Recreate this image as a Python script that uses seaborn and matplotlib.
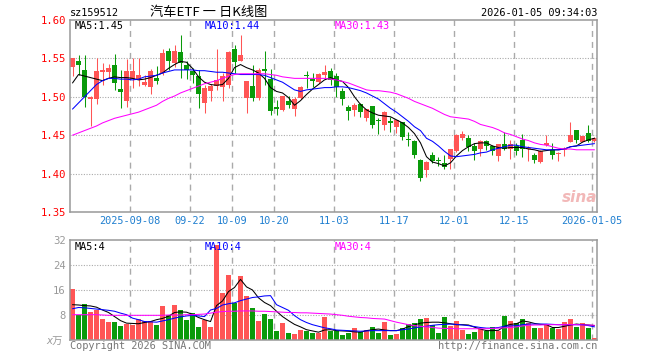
import numpy as np
import pandas as pd
import seaborn as sns
import matplotlib.pyplot as plt

### trading days on the chart: weekdays minus the exchange holidays
holidays = ["2025-10-01", "2025-10-02", "2025-10-03", "2025-10-06", "2025-10-07",
            "2025-10-08", "2026-01-01", "2026-01-02"]
days = pd.bdate_range("2025-08-25", "2026-01-05")
days = days[~days.isin(pd.to_datetime(holidays))]

open_price = [1.539, 1.547, 1.535, 1.4965, 1.497, 1.532, 1.532, 1.541, 1.510, 1.495,
              1.523, 1.522, 1.516, 1.513, 1.524, 1.531, 1.5596, 1.544, 1.5585, 1.541,
              1.534, 1.5276, 1.492, 1.507, 1.5145, 1.513, 1.515, 1.5618, 1.547, 1.498,
              1.5145, 1.499, 1.5365, 1.5237, 1.487, 1.483, 1.4947, 1.4838, 1.499, 1.529,
              1.5237, 1.519, 1.528, 1.533, 1.527, 1.507, 1.4872, 1.483, 1.4908, 1.472,
              1.4875, 1.4692, 1.4632, 1.468, 1.4609, 1.4675, 1.4451, 1.4421, 1.418, 1.405,
              1.4237, 1.418, 1.414, 1.419, 1.429, 1.447, 1.447, 1.436, 1.4316, 1.4425,
              1.4355, 1.4224, 1.438, 1.4325, 1.4355, 1.4443, 1.4316, 1.4237, 1.415, 1.4368,
              1.4303, 1.4257, 1.4303, 1.4412, 1.4566, 1.4412, 1.4535, 1.4425]
high_price = [1.551, 1.554, 1.554, 1.501, 1.550, 1.544, 1.543, 1.556, 1.535, 1.549,
              1.550, 1.550, 1.529, 1.536, 1.540, 1.562, 1.564, 1.567, 1.580, 1.5465,
              1.538, 1.535, 1.515, 1.517, 1.562, 1.531, 1.560, 1.568, 1.580, 1.521,
              1.541, 1.537, 1.559, 1.5365, 1.496, 1.501, 1.5004, 1.4996, 1.514, 1.533,
              1.531, 1.531, 1.542, 1.538, 1.531, 1.5114, 1.4895, 1.4925, 1.4925, 1.4845,
              1.488, 1.472, 1.481, 1.474, 1.4697, 1.4675, 1.4543, 1.4434, 1.4193, 1.417,
              1.428, 1.4214, 1.4237, 1.4316, 1.4522, 1.4557, 1.45, 1.4393, 1.4434, 1.4443,
              1.4368, 1.438, 1.4543, 1.4443, 1.4393, 1.452, 1.4355, 1.4267, 1.4303, 1.4509,
              1.4393, 1.428, 1.434, 1.4675, 1.4566, 1.4495, 1.4632, 1.4475]
low_price = [1.527, 1.528, 1.487, 1.462, 1.490, 1.516, 1.525, 1.509, 1.485, 1.487,
             1.512, 1.514, 1.514, 1.504, 1.517, 1.528, 1.535, 1.539, 1.524, 1.523,
             1.518, 1.486, 1.479, 1.495, 1.509, 1.495, 1.512, 1.531, 1.546, 1.479,
             1.495, 1.496, 1.515, 1.476, 1.476, 1.481, 1.485, 1.475, 1.497, 1.512,
             1.513, 1.518, 1.523, 1.516, 1.4996, 1.4895, 1.4697, 1.475, 1.474, 1.469,
             1.460, 1.452, 1.4566, 1.4543, 1.453, 1.4434, 1.4355, 1.4207, 1.3899, 1.3955,
             1.414, 1.4105, 1.406, 1.406, 1.428, 1.4443, 1.4293, 1.4171, 1.4224, 1.4303,
             1.4237, 1.4162, 1.4303, 1.4193, 1.4237, 1.4217, 1.4162, 1.4136, 1.4136, 1.4355,
             1.4193, 1.416, 1.4224, 1.4412, 1.4399, 1.4412, 1.4412, 1.441]
close_price = [1.550, 1.541, 1.500, 1.500, 1.533, 1.5355, 1.537, 1.518, 1.506, 1.533,
               1.533, 1.529, 1.519, 1.533, 1.521, 1.5575, 1.547, 1.5596, 1.544, 1.5355,
               1.529, 1.503, 1.512, 1.5145, 1.5224, 1.5276, 1.5585, 1.5457, 1.554, 1.520,
               1.4985, 1.5355, 1.533, 1.481, 1.484, 1.5004, 1.4895, 1.497, 1.513, 1.527,
               1.520, 1.530, 1.532, 1.5224, 1.513, 1.497, 1.482, 1.4895, 1.4807, 1.4842,
               1.4632, 1.468, 1.4807, 1.4665, 1.4697, 1.4478, 1.4434, 1.4237, 1.3943, 1.415,
               1.416, 1.417, 1.409, 1.4316, 1.45, 1.451, 1.434, 1.43, 1.4421, 1.4355,
               1.4289, 1.4382, 1.4325, 1.439, 1.429, 1.4325, 1.4334, 1.418, 1.4293, 1.4393,
               1.4237, 1.4273, 1.4325, 1.45, 1.4434, 1.449, 1.4425, 1.4465]
ma5 = [1.518, 1.529, 1.527, 1.525, 1.523, 1.521, 1.524, 1.526, 1.525, 1.525,
       1.524, 1.522, 1.523, 1.525, 1.528, 1.531, 1.537, 1.542, 1.546, 1.545,
       1.537, 1.526, 1.519, 1.516, 1.515, 1.516, 1.524, 1.538, 1.542, 1.538,
       1.535, 1.531, 1.524, 1.512, 1.507, 1.505, 1.499, 1.489, 1.495, 1.503,
       1.510, 1.516, 1.522, 1.525, 1.522, 1.520, 1.512, 1.500, 1.490, 1.483,
       1.479, 1.476, 1.475, 1.474, 1.470, 1.466, 1.460, 1.452, 1.440, 1.422,
       1.415, 1.413, 1.410, 1.414, 1.423, 1.430, 1.435, 1.439, 1.440, 1.440,
       1.436, 1.434, 1.433, 1.434, 1.434, 1.434, 1.432, 1.431, 1.429, 1.430,
       1.431, 1.431, 1.432, 1.435, 1.436, 1.441, 1.444, 1.446]
ma10 = [1.484, 1.492, 1.500, 1.508, 1.516, 1.521, 1.524, 1.524, 1.523, 1.523,
        1.522, 1.523, 1.526, 1.527, 1.528, 1.531, 1.533, 1.535, 1.535, 1.535,
        1.535, 1.534, 1.534, 1.533, 1.532, 1.532, 1.531, 1.530, 1.529, 1.529,
        1.529, 1.529, 1.528, 1.525, 1.522, 1.519, 1.514, 1.509, 1.507, 1.509,
        1.510, 1.511, 1.512, 1.512, 1.513, 1.513, 1.512, 1.510, 1.508, 1.505,
        1.501, 1.497, 1.491, 1.485, 1.480, 1.474, 1.468, 1.461, 1.456, 1.446,
        1.442, 1.436, 1.429, 1.423, 1.422, 1.423, 1.424, 1.425, 1.427, 1.428,
        1.431, 1.433, 1.435, 1.437, 1.437, 1.435, 1.434, 1.433, 1.432, 1.431,
        1.431, 1.431, 1.432, 1.435, 1.436, 1.437, 1.438, 1.439]
ma30 = [1.450, 1.453, 1.456, 1.459, 1.462, 1.466, 1.469, 1.472, 1.474, 1.476,
        1.478, 1.480, 1.483, 1.486, 1.489, 1.494, 1.498, 1.501, 1.505, 1.508,
        1.511, 1.514, 1.517, 1.519, 1.521, 1.524, 1.527, 1.529, 1.530, 1.530,
        1.530, 1.530, 1.530, 1.529, 1.528, 1.526, 1.525, 1.524, 1.524, 1.524,
        1.524, 1.524, 1.524, 1.523, 1.522, 1.520, 1.518, 1.515, 1.512, 1.509,
        1.508, 1.508, 1.507, 1.506, 1.504, 1.501, 1.498, 1.494, 1.491, 1.488,
        1.485, 1.481, 1.477, 1.474, 1.473, 1.472, 1.471, 1.468, 1.464, 1.462,
        1.460, 1.457, 1.453, 1.451, 1.448, 1.445, 1.443, 1.440, 1.438, 1.437,
        1.435, 1.433, 1.432, 1.432, 1.431, 1.431, 1.431, 1.431]

### volume in 万 shares
volume = [16.3, 8.1, 11.6, 9.1, 9.7, 6.8, 5.9, 5.9, 4.4, 5.1,
          4.7, 6.6, 6.2, 6.2, 4.9, 10.9, 7.9, 11.3, 9.7, 6.5,
          8.6, 4.2, 6.5, 4.2, 30.4, 15.2, 20.8, 11.8, 20.5, 14.1,
          10.3, 6.2, 8.4, 6.8, 3.0, 5.6, 2.3, 2.0, 3.3, 3.0,
          2.1, 2.1, 7.4, 2.8, 3.0, 1.7, 2.3, 3.8, 2.5, 3.2,
          4.2, 2.3, 5.8, 1.7, 2.0, 3.8, 5.1, 5.5, 6.8, 7.1,
          4.9, 2.3, 7.4, 4.6, 6.2, 3.3, 2.0, 2.7, 3.6, 3.0,
          4.2, 2.8, 7.7, 6.2, 5.5, 6.8, 5.5, 3.9, 3.9, 4.9,
          3.9, 3.6, 5.8, 6.8, 4.2, 5.5, 3.9, 0.7]
vol_ma5 = [11.3, 11.2, 11.0, 10.9, 10.5, 9.6, 8.8, 7.5, 6.2, 5.4,
           5.3, 5.2, 5.6, 5.9, 6.5, 6.9, 7.6, 8.8, 9.0, 8.9,
           8.2, 7.2, 6.5, 5.9, 11.0, 12.5, 15.5, 16.8, 19.4, 17.0,
           16.0, 13.5, 12.0, 11.0, 9.2, 7.5, 6.2, 5.0, 4.2, 3.3,
           2.9, 2.5, 3.2, 3.3, 3.0, 2.9, 2.8, 2.6, 2.5, 3.0,
           3.3, 3.5, 3.2, 3.0, 3.0, 3.5, 4.3, 4.8, 5.4, 5.6,
           5.7, 5.7, 5.5, 5.2, 4.9, 4.9, 4.8, 4.1, 3.5, 3.0,
           3.0, 3.1, 4.4, 5.0, 5.2, 6.1, 5.8, 5.3, 5.0, 4.9,
           4.0, 4.0, 4.4, 4.8, 5.1, 4.9, 4.8, 4.6]
vol_ma10 = [10.0, 10.4, 10.3, 10.1, 9.9, 9.7, 9.5, 9.2, 8.6, 8.1,
            7.0, 6.5, 5.9, 5.8, 5.7, 6.1, 6.5, 7.0, 7.4, 7.7,
            7.9, 7.7, 7.5, 9.6, 10.1, 11.2, 11.6, 11.9, 12.6, 13.1,
            13.6, 13.8, 14.1, 14.2, 11.3, 10.4, 9.5, 7.8, 6.5, 5.6,
            4.9, 4.4, 3.9, 3.6, 3.2, 3.1, 3.0, 2.9, 2.8, 2.9,
            3.0, 3.0, 3.0, 3.0, 3.0, 3.3, 3.5, 3.9, 4.2, 4.4,
            4.7, 4.9, 5.0, 5.1, 5.0, 4.8, 4.6, 4.3, 4.0, 3.8,
            3.8, 4.0, 4.4, 4.5, 4.6, 4.9, 5.1, 5.1, 5.1, 5.1,
            5.0, 4.9, 4.9, 4.9, 4.9, 4.9, 4.6, 4.2]
vol_ma30 = [8.1, 8.1, 8.1, 8.1, 8.1, 8.0, 7.9, 7.9, 7.9, 7.9,
            7.9, 7.9, 7.9, 7.9, 7.9, 7.9, 8.0, 8.0, 8.0, 8.1,
            8.1, 8.2, 8.3, 8.6, 8.9, 9.1, 9.2, 9.2, 9.3, 9.3,
            9.3, 9.2, 9.2, 9.1, 9.0, 8.9, 8.8, 8.8, 8.7, 8.7,
            8.6, 8.5, 8.4, 8.3, 8.1, 7.9, 7.6, 7.4, 7.2, 7.1,
            6.9, 6.8, 6.7, 6.2, 5.7, 5.3, 4.9, 4.6, 4.4, 4.2,
            4.0, 3.8, 3.7, 3.7, 3.6, 3.6, 3.6, 3.6, 3.6, 3.6,
            3.7, 3.8, 3.9, 4.0, 4.2, 4.5, 4.7, 4.8, 4.8, 4.9,
            4.9, 4.9, 4.9, 4.9, 4.9, 4.8, 4.8, 4.7]

tick_dates = ["2025-09-08", "2025-09-22", "2025-10-09", "2025-10-20", "2025-11-03",
              "2025-11-17", "2025-12-01", "2025-12-15", "2026-01-05"]
tick_labels = ["2025-09-08", "09-22", "10-09", "10-20", "11-03",
               "11-17", "12-01", "12-15", "2026-01-05"]
price_ticks = [1.35, 1.40, 1.45, 1.50, 1.55, 1.60]
volume_ticks = [8, 16, 24, 32]

df = pd.DataFrame({"date": days, "open": open_price, "high": high_price, "low": low_price,
                   "close": close_price, "ma5": ma5, "ma10": ma10, "ma30": ma30,
                   "volume": volume, "vma5": vol_ma5, "vma10": vol_ma10, "vma30": vol_ma30})
df["pos"] = np.arange(len(df))
df["x"] = df["pos"] + 0.4   # candles sit just right of the day's grid line
tick_pos = [int(df.index[df["date"] == pd.Timestamp(d)][0]) for d in tick_dates]

RED = "#ff5555"
GREEN = "#0a9a0a"
GRID = "#aaaaaa"
FRAME = "#999999"

sns.set_style("white")
plt.rcParams["font.family"] = ["DejaVu Sans Mono", "Noto Sans CJK SC"]
plt.rcParams["font.size"] = 7.2

W, H = 660, 360
fig = plt.figure(figsize=(W / 100, H / 100), dpi=100)

def box(l, t, r, b):
    return [l / W, 1 - b / H, (r - l) / W, (b - t) / H]

def put(x, y, s, **kw):
    fig.text(x / W, 1 - y / H, s, va="center", **kw)

ax = fig.add_axes(box(70, 20, 597, 212))
axv = fig.add_axes(box(70, 240, 597, 340))

up = df["close"] >= df["open"]
colours = np.where(up, RED, GREEN)

### candles
ax.vlines(df["x"], df["low"], df["high"], colors=colours, linewidth=0.75, zorder=2)
body = (df["close"] - df["open"]).abs().clip(lower=0.0013)
ax.bar(df["x"], body, bottom=df[["open", "close"]].min(axis=1), width=0.82,
       color=colours, linewidth=0, zorder=2)
sns.lineplot(data=df, x="x", y="ma5", ax=ax, color="black", linewidth=0.75, zorder=3)
sns.lineplot(data=df, x="x", y="ma10", ax=ax, color="#0000ff", linewidth=0.75, zorder=3)
sns.lineplot(data=df, x="x", y="ma30", ax=ax, color="#ff00ff", linewidth=0.75, zorder=3)

### volume
axv.bar(df["x"], df["volume"], width=0.82, color=colours, linewidth=0, zorder=2)
sns.lineplot(data=df, x="x", y="vma5", ax=axv, color="black", linewidth=0.75, zorder=3)
sns.lineplot(data=df, x="x", y="vma10", ax=axv, color="#0000ff", linewidth=0.75, zorder=3)
sns.lineplot(data=df, x="x", y="vma30", ax=axv, color="#ff00ff", linewidth=0.75, zorder=3)

for a in (ax, axv):
    a.set_xlim(-0.02, len(df) - 0.18)
    a.set_xlabel("")
    a.set_ylabel("")
    a.set_xticks(tick_pos)
    a.grid(False)
    for p in tick_pos:
        a.axvline(p, color=GRID, linewidth=1, linestyle=(0, (4.3, 3.6)), zorder=1)
    for s in a.spines.values():
        s.set_color(FRAME)
        s.set_linewidth(1.1)
    a.tick_params(length=0)

ax.set_ylim(price_ticks[0], price_ticks[-1])
ax.set_yticks(price_ticks)
ax.set_yticklabels([f"{v:.2f}" for v in price_ticks])
for v in price_ticks[1:-1]:
    ax.axhline(v, color=GRID, linewidth=0.8, linestyle=(0, (1, 1.4)), zorder=1)
ax.tick_params(axis="y", colors="red", labelsize=7.6, pad=3)
ax.set_xticklabels(tick_labels)
ax.tick_params(axis="x", colors="#1f7fd0", labelsize=7.4, pad=3)

axv.set_ylim(0, volume_ticks[-1])
axv.set_yticks(volume_ticks)
axv.set_yticklabels([str(v) for v in volume_ticks])
for v in volume_ticks[:-1]:
    axv.axhline(v, color=GRID, linewidth=0.8, linestyle=(0, (1, 1.4)), zorder=1)
axv.tick_params(axis="y", colors=FRAME, labelsize=7.6, pad=3)
axv.set_xticklabels([])

### header, legends and footer (volume MAs are shown as whole 万, truncated)
put(70, 13, "sz159512", color="black", fontsize=7.4)
put(150, 12.5, "汽车ETF 一 日K线图", color="black", fontsize=9.5,
    family=["Noto Sans CJK SC", "DejaVu Sans"])
put(597, 13, "2026-01-05 09:34:03", color="black", fontsize=7.4, ha="right")
put(75, 26, f"MA5:{ma5[-1]:.2f}", color="black", fontsize=7.4)
put(205, 26, f"MA10:{ma10[-1]:.2f}", color="#0000ff", fontsize=7.4)
put(335, 26, f"MA30:{ma30[-1]:.2f}", color="#ff00ff", fontsize=7.4)
put(75, 247, f"MA5:{int(vol_ma5[-1])}", color="black", fontsize=7.4)
put(205, 247, f"MA10:{int(vol_ma10[-1])}", color="#0000ff", fontsize=7.4)
put(335, 247, f"MA30:{int(vol_ma30[-1])}", color="#ff00ff", fontsize=7.4)
put(63, 341, "x万", color=FRAME, fontsize=7.4, ha="right", style="italic")
put(70, 346, "Copyright 2026 SINA.COM", color="#777777", fontsize=7.4)
put(597, 346, "http://finance.sina.com.cn", color="#777777", fontsize=7.4, ha="right")
put(597, 197, "sina", color="#f2b8b8", fontsize=11, ha="right", weight="bold",
    style="italic", family=["DejaVu Sans"])

fig.savefig("out.png", dpi=100)
